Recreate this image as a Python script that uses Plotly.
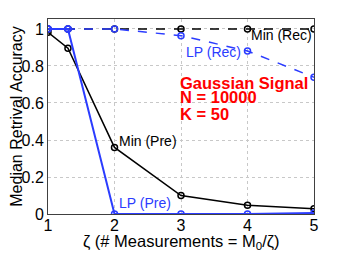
import plotly.graph_objects as go

zeta = [1, 1.3, 2, 3, 4, 5]
min_rec = [1.0, 1.0, 1.0, 1.0, 1.0, 1.0]
min_pre = [0.982, 0.896, 0.36, 0.10, 0.047, 0.029]
lp_rec = [1.0, 1.0, 1.0, 0.964, 0.881, 0.739]
lp_pre = [1.0, 1.0, 0.0, 0.0, 0.0, 0.005]

BLUE = "#2b3cff"
fig = go.Figure()
mk = dict(symbol="circle-open", size=6, line=dict(width=1.5))
fig.add_trace(go.Scatter(x=zeta, y=min_rec, mode="lines+markers",
                         line=dict(color="black", width=1.5, dash="dash"),
                         marker=dict(color="black", **mk)))
fig.add_trace(go.Scatter(x=zeta, y=lp_rec, mode="lines+markers",
                         line=dict(color=BLUE, width=1.5, dash="dash"),
                         marker=dict(color=BLUE, **mk)))
fig.add_trace(go.Scatter(x=zeta, y=min_pre, mode="lines+markers",
                         line=dict(color="black", width=1.5),
                         marker=dict(color="black", **mk)))
fig.add_trace(go.Scatter(x=zeta, y=lp_pre, mode="lines+markers",
                         line=dict(color=BLUE, width=2),
                         marker=dict(color=BLUE, **mk)))

font = "Liberation Sans, Arial, sans-serif"
ann = [
    dict(x=5, y=0.968, text="Min (Rec)", xanchor="right", yanchor="middle",
         font=dict(color="black", size=14)),
    dict(x=3.045, y=0.876, text="LP (Rec)", xanchor="left", yanchor="middle",
         font=dict(color=BLUE, size=14)),
    dict(x=2.04, y=0.395, text="Min (Pre)", xanchor="left", yanchor="middle",
         font=dict(color="black", size=14)),
    dict(x=2.04, y=0.06, text="LP (Pre)", xanchor="left", yanchor="middle",
         font=dict(color=BLUE, size=14)),
    dict(x=2.96, y=0.708, text="<b>Gaussian Signal</b>", xanchor="left", yanchor="middle",
         font=dict(color="red", size=16.5)),
    dict(x=2.96, y=0.632, text="<b>N = 10000</b>", xanchor="left", yanchor="middle",
         font=dict(color="red", size=16.5)),
    dict(x=2.96, y=0.54, text="<b>K = 50</b>", xanchor="left", yanchor="middle",
         font=dict(color="red", size=16.5)),
]
for a in ann:
    a.update(showarrow=False, xref="x", yref="y")
ann.append(dict(x=0.5, y=-0.145, xref="paper", yref="paper", showarrow=False,
                xanchor="center", yanchor="middle",
                text="ζ (# Measurements = M<sub>0</sub>/ζ)",
                font=dict(color="black", size=16.5)))

# page body has an 8px margin, so the figure is drawn 8px in from the corner
fig.update_layout(
    width=338, height=252,
    margin=dict(l=40, r=32, t=11, b=46),
    paper_bgcolor="white", plot_bgcolor="white",
    showlegend=False,
    font=dict(family=font, size=16, color="black"),
    annotations=ann,
    xaxis=dict(range=[1, 5], tickvals=[1, 2, 3, 4, 5], showgrid=True,
               gridcolor="#c8c8c8", griddash="dot", gridwidth=1,
               showline=True, linecolor="#404040", mirror=True, linewidth=1,
               zeroline=False, ticks="", automargin=False,
               ticklabelstandoff=-3,
               tickfont=dict(size=16)),
    yaxis=dict(range=[0, 1.054], tickvals=[0, 0.2, 0.4, 0.6, 0.8, 1],
               ticktext=["0", "0.2", "0.4", "0.6", "0.8", "1"], showgrid=True,
               gridcolor="#c8c8c8", griddash="dot", gridwidth=1,
               showline=True, linecolor="#404040", mirror=True, linewidth=1,
               zeroline=False, ticks="", automargin=False,
               title=dict(text="Median Retrival Accuracy", font=dict(size=16), standoff=6),
               tickfont=dict(size=16)),
)
fig.write_html("out.html")
